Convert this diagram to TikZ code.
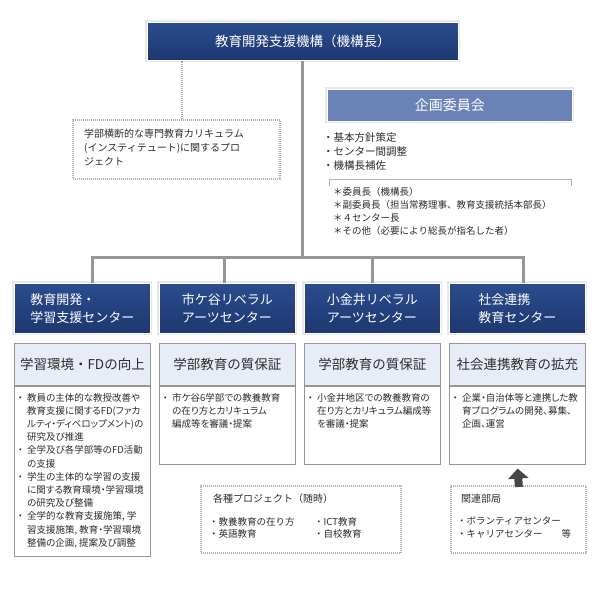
\documentclass[tikz,border=0pt]{standalone}
\usepackage{fontspec}
\setmainfont{Noto Sans CJK JP}
\newfontfamily\jpprop{Noto Sans CJK JP}[RawFeature=+palt]
\usetikzlibrary{positioning, arrows.meta}

\definecolor{navytop}{RGB}{44,76,142}
\definecolor{navybot}{RGB}{29,55,112}
\definecolor{planblue}{RGB}{106,130,182}
\definecolor{headfill}{RGB}{231,236,246}
\definecolor{linegray}{RGB}{150,150,150}
\definecolor{dotgray}{RGB}{175,175,175}
\definecolor{textgray}{RGB}{45,45,45}
\definecolor{arrowgray}{RGB}{70,70,70}

\newcommand{\bul}{{\rmfamily ・}\hspace{2pt}}
\newcommand{\ind}{\hspace*{11.5pt}}

\begin{document}
\begin{tikzpicture}[x=1pt, y=-1pt]
    \tikzstyle{navybox} = [
        rectangle, draw=white, line width=0.8pt,
        top color=navytop, bottom color=navybot,
        text=white, align=left, inner sep=0pt,
        preaction={draw=black!9, line width=4pt}
    ]

    \tikzstyle{planbox} = [
        rectangle, draw=white, line width=0.8pt, fill=planblue,
        text=white, inner sep=0pt,
        preaction={draw=black!9, line width=4pt}
    ]

    \tikzstyle{headbox} = [
        rectangle, draw=linegray, line width=0.8pt, fill=headfill,
        text=textgray, inner sep=0pt, anchor=north west,
        minimum width=136pt, minimum height=42pt,
        font=\fontsize{13.5}{16}\selectfont
    ]

    \tikzstyle{bodybox} = [
        rectangle, draw=linegray, line width=0.8pt, fill=white,
        inner sep=0pt, anchor=north west, minimum width=136pt
    ]

    \tikzstyle{dotbox} = [
        rectangle, draw=dotgray, line width=2.4pt,
        dash pattern=on 1pt off 1pt, inner sep=0pt, anchor=north west
    ]

    \tikzstyle{desc} = [
        align=left, inner sep=0pt, anchor=north west, text=textgray,
        font=\fontsize{9.5}{13.2}\selectfont
    ]

    \tikzstyle{task} = [
        desc, font=\jpprop\fontsize{9.5}{13.2}\selectfont
    ]

    \tikzstyle{trunk} = [draw=linegray, line width=3pt]

    \tikzstyle{dotline} = [draw=dotgray, line width=2.4pt, dash pattern=on 1pt off 1pt]

    \useasboundingbox[fill=white] (0,0) rectangle (600,590);

    % Head of the organisation
    \node[navybox, anchor=north west, align=center,
          minimum width=311pt, minimum height=38pt,
          font=\fontsize{13.5}{16}\selectfont] (head) at (147,22) {教育開発支援機構（機構長）};

    % Cross-faculty project
    \node[dotbox, minimum width=207pt, minimum height=59pt] (inst) at (72,119) {};
    \node[desc, font=\fontsize{10}{14}\selectfont] (inst_txt) at (84,129) {
        学部横断的な専門教育カリキュラム\\
        (インスティテュート)に関するプロ\\
        ジェクト
    };

    % Planning committee
    \node[planbox, anchor=north west, minimum width=245pt, minimum height=32pt,
          font=\fontsize{14}{16}\selectfont] (plan) at (327,89) {企画委員会};
    \node[desc, font=\fontsize{10.5}{14}\selectfont] (plan_tasks) at (323,132) {
        ・基本方針策定\\
        ・センター間調整\\
        ・機構長補佐
    };
    \draw[draw=black!30, line width=0.8pt] (329,186) |- (571,179) -- (571,186);
    \node[desc, font=\fontsize{9.5}{13}\selectfont] (plan_members) at (333,187) {
        ＊委員長（機構長）\\
        ＊副委員長（担当常務理事、教育支援統括本部長）\\
        ＊４センター長\\
        ＊その他（必要により総長が指名した者）
    };

    % Centers
    \node[navybox, anchor=north west, minimum width=136pt, minimum height=50pt,
          font=\fontsize{13}{18}\selectfont] (ctr1) at (14,283) {教育開発・\\学習支援センター};
    \node[navybox, anchor=north west, minimum width=136pt, minimum height=50pt,
          font=\fontsize{13}{18}\selectfont] (ctr2) at (159,283) {市ケ谷リベラル\\アーツセンター};
    \node[navybox, anchor=north west, minimum width=136pt, minimum height=50pt,
          font=\fontsize{13}{18}\selectfont] (ctr3) at (304,283) {小金井リベラル\\アーツセンター};
    \node[navybox, anchor=north west, minimum width=136pt, minimum height=50pt,
          font=\fontsize{13}{18}\selectfont] (ctr4) at (449,283) {社会連携\\教育センター};

    % Tree lines
    \coordinate (bar) at (0,257);
    \draw[trunk] (head.south) -- (head.south |- bar);
    \draw[trunk] ([xshift=10pt]ctr1.north) |- ([xshift=6pt]ctr4.north |- bar)
        -- ([xshift=6pt]ctr4.north);
    \draw[trunk] ([xshift=-3pt]ctr2.north) -- ([xshift=-3pt]ctr2.north |- bar);
    \draw[trunk] (ctr3.north) -- (ctr3.north |- bar);
    \draw[dotline] ([xshift=5pt]inst.north) -- ([xshift=5pt]inst.north |- head.south);

    % Missions
    \node[headbox] (goal1) at (14,343) {学習環境・FDの向上};
    \node[headbox] (goal2) at (159,343) {学部教育の質保証};
    \node[headbox] (goal3) at (304,343) {学部教育の質保証};
    \node[headbox] (goal4) at (449,343) {社会連携教育の拡充};

    % Tasks
    \node[bodybox, minimum height=170pt] (body1) at (goal1.south west) {};
    \node[bodybox, minimum height=78pt] (body2) at (goal2.south west) {};
    \node[bodybox, minimum height=78pt] (body3) at (goal3.south west) {};
    \node[bodybox, minimum height=78pt] (body4) at (goal4.south west) {};

    \node[task, below right=7pt and 1.5pt of body1.north west] (body1_txt) {
        \bul 教員の主体的な教授改善や\\
        \ind 教育支援に関するFD(ファカ\\
        \ind ルティ・ディベロップメント)の\\
        \ind 研究及び推進\\
        \bul 全学及び各学部等のFD活動\\
        \ind の支援\\
        \bul 学生の主体的な学習の支援\\
        \ind に関する教育環境・学習環境\\
        \ind の研究及び整備\\
        \bul 全学的な教育支援施策, 学\\
        \ind 習支援施策, 教育・学習環境\\
        \ind 整備の企画, 提案及び調整
    };
    \node[task, below right=7pt and 1.5pt of body2.north west] (body2_txt) {
        \bul 市ケ谷6学部での教養教育\\
        \ind の在り方とカリキュラム\\
        \ind 編成等を審議・提案
    };
    \node[task, below right=7pt and 1.5pt of body3.north west] (body3_txt) {
        \bul 小金井地区での教養教育の\\
        \ind 在り方とカリキュラム編成等\\
        \ind を審議・提案
    };
    \node[task, below right=7pt and 1.5pt of body4.north west] (body4_txt) {
        \bul 企業・自治体等と連携した教\\
        \ind 育プログラムの開発、募集、\\
        \ind 企画、運営
    };

    % Projects
    \node[dotbox, minimum width=200pt, minimum height=67pt] (proj) at (200,485) {};
    \node[desc, font=\fontsize{10}{13}\selectfont] (proj_title) at (213,494) {各種プロジェクト（随時）};
    \node[desc, font=\fontsize{9.5}{12.5}\selectfont] (proj_a) at (209,517) {
        ・教養教育の在り方\\
        ・英語教育
    };
    \node[desc, font=\fontsize{9.5}{12.5}\selectfont] (proj_b) at (314,517) {
        ・ICT教育\\
        ・自校教育
    };

    % Related offices
    \node[dotbox, minimum width=135pt, minimum height=67pt] (rel) at (450,485) {};
    \node[desc, font=\fontsize{10}{13}\selectfont] (rel_title) at (461,494) {関連部局};
    \node[desc, font=\fontsize{9.5}{12.5}\selectfont] (rel_items) at (457,517) {
        ・ボランティアセンター\\
        ・キャリアセンター\hspace{2em}等
    };

    \draw[-{Triangle[width=20pt, length=10pt]}, draw=arrowgray, fill=arrowgray,
          line width=8pt, shorten <=-2pt, shorten >=4pt] (rel.north) -- (body4.south);

\end{tikzpicture}
\end{document}
